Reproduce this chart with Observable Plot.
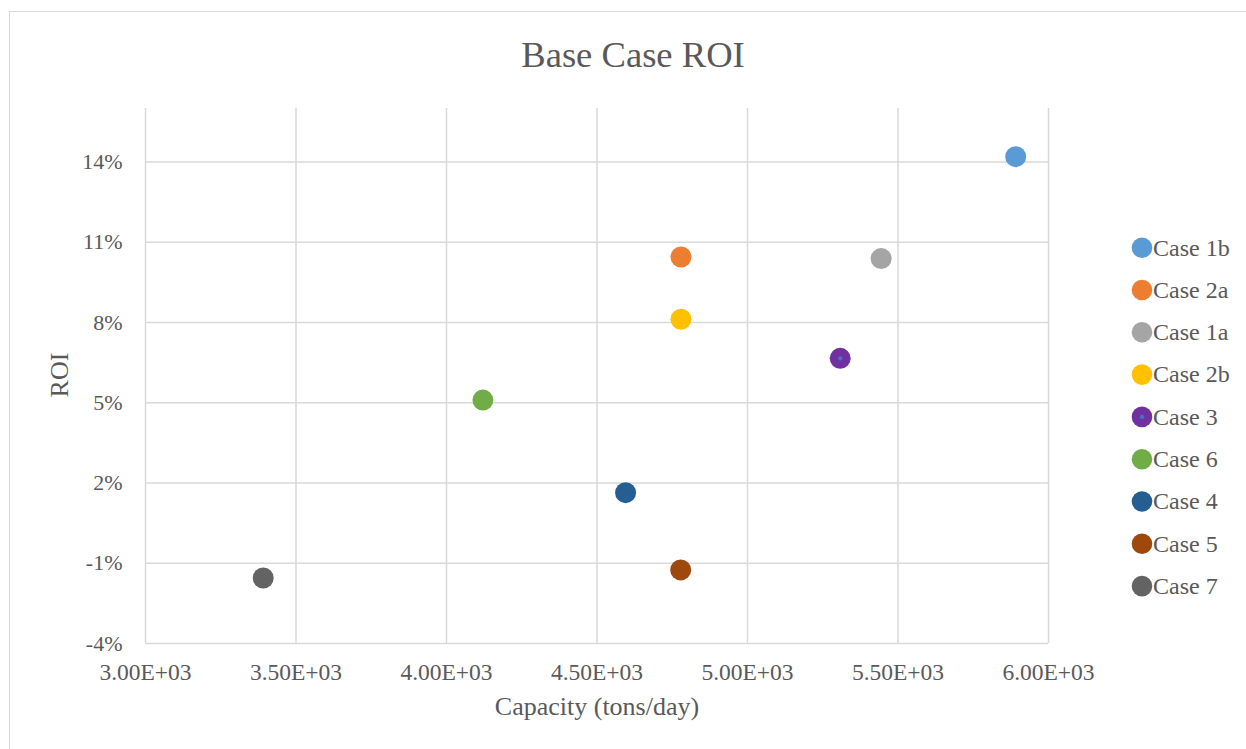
<!DOCTYPE html>
<html>
<head>
<meta charset="utf-8">
<script src="https://cdn.jsdelivr.net/npm/d3@7"></script>
<script src="https://cdn.jsdelivr.net/npm/@observablehq/plot@0.6"></script>
<style>
  html, body { margin: 0; padding: 0; background: #fff; font-family: 'Liberation Serif', serif; }
  #wrap { position: relative; width: 1246px; height: 749px; overflow: hidden; font-family: 'Liberation Serif', serif; }
  #border { position: absolute; left: 9px; top: 11px; width: 1300px; height: 800px; border: 1px solid #d9d9d9; box-sizing: border-box; }
  #plot { position: absolute; left: 0; top: 0; }
  #overlay { position: absolute; left: 0; top: 0; }
</style>
</head>
<body>
<div id="wrap">
  <div id="border"></div>
  <div id="plot"></div>
  <svg id="overlay" width="1246" height="749"></svg>
</div>
<script>
// ---- data ----
const cases      = ["Case 1b", "Case 2a", "Case 1a", "Case 2b", "Case 3", "Case 6", "Case 4", "Case 5", "Case 7"];
const capacities = [5891, 4779, 5444, 4779, 5308, 4121, 4595, 4778, 3391];
const rois       = [0.1420, 0.1045, 0.1039, 0.0812, 0.0666, 0.0510, 0.0164, -0.0125, -0.0155];
const colors     = ["#5B9BD5", "#ED7D31", "#A5A5A5", "#FFC000", "#7030A0", "#70AD47", "#255E91", "#9E480E", "#636363"];
const xTicks     = [3000, 3500, 4000, 4500, 5000, 5500, 6000];
const yTicks     = [-0.04, -0.01, 0.02, 0.05, 0.08, 0.11, 0.14];
const innerDotCase  = "Case 3";
const innerDotColor = "#4472C4";

const title  = "Base Case ROI";
const xTitle = "Capacity (tons/day)";
const yTitle = "ROI";

const rows = cases.map((c, i) => ({name: c, x: capacities[i], y: rois[i], color: colors[i]}));

const textColor = "#595959";
const fontFam = "'Liberation Serif', serif";

const fmtX = v => {
  const s = v.toExponential(2).toUpperCase(); // 3.00E+3
  return s.replace(/E([+-])(\d)$/, "E$10$2");
};
const fmtY = v => Math.round(v * 100) + "%";

const chart = Plot.plot({
  width: 1246,
  height: 749,
  marginTop: 108,
  marginBottom: 106,
  marginLeft: 145,
  marginRight: 198,
  style: {fontFamily: fontFam, fontSize: "23px", color: textColor, background: "transparent"},
  x: {domain: [3000, 6000], ticks: xTicks, tickFormat: fmtX, tickSize: 0, tickPadding: 20, label: null},
  y: {domain: [-0.04, 0.16], ticks: yTicks, tickFormat: fmtY, tickSize: 0, tickPadding: 23, label: null},
  marks: [
    Plot.ruleX(xTicks, {stroke: "#d9d9d9", strokeWidth: 1.5}),
    Plot.ruleY(yTicks, {stroke: "#d9d9d9", strokeWidth: 1.5}),
    Plot.axisX({ticks: xTicks, tickFormat: fmtX, tickSize: 0, tickPadding: 20, fill: textColor, fontSize: 23.5, fontFamily: fontFam}),
    Plot.axisY({ticks: yTicks, tickFormat: fmtY, tickSize: 0, tickPadding: 23, fill: textColor, fontSize: 22, fontFamily: fontFam}),
    Plot.dot(rows, {x: "x", y: "y", r: 10.5, fill: d => d.color, stroke: null}),
    Plot.dot(rows.filter(d => d.name === innerDotCase), {x: "x", y: "y", r: 2.2, fill: innerDotColor})
  ]
});
document.getElementById("plot").appendChild(chart);

// ---- titles and legend ----
const svg = d3.select("#overlay").attr("font-family", fontFam);
svg.append("text").attr("x", 633).attr("y", 66.5).attr("text-anchor", "middle")
  .attr("font-size", 36.6).attr("fill", textColor).text(title);
svg.append("text").attr("x", 597).attr("y", 714.5).attr("text-anchor", "middle")
  .attr("font-size", 26).attr("fill", textColor).text(xTitle);
svg.append("text").attr("transform", "translate(68,375) rotate(-90)").attr("text-anchor", "middle")
  .attr("font-size", 26).attr("fill", textColor).text(yTitle);

const lg = svg.append("g");
rows.forEach((d, i) => {
  const cy = 247.7 + i * 42.3;
  lg.append("circle").attr("cx", 1142).attr("cy", cy).attr("r", 10.3).attr("fill", d.color);
  if (d.name === innerDotCase) lg.append("circle").attr("cx", 1142).attr("cy", cy).attr("r", 2.2).attr("fill", innerDotColor);
  lg.append("text").attr("x", 1153).attr("y", cy + 7.8).attr("font-size", 24).attr("fill", textColor).text(d.name);
});
</script>
</body>
</html>
